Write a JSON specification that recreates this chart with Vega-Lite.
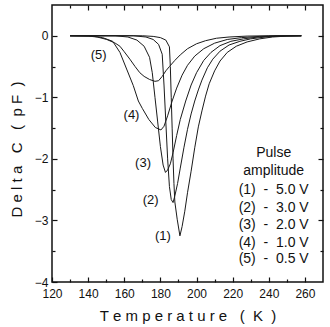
{
  "$schema": "https://vega.github.io/schema/vega-lite/v6.json",
  "width": 271,
  "height": 277,
  "autosize": "none",
  "padding": {"left": 52, "top": 5, "right": 7, "bottom": 45},
  "background": "white",
  "config": {
    "view": {"stroke": "#111", "strokeWidth": 1.5},
    "font": "Liberation Sans",
    "axis": {"grid": false, "domain": false, "tickColor": "#111", "tickWidth": 1.2, "labelColor": "#111", "labelFont": "Liberation Sans", "labelFontSize": 12, "titleFont": "Liberation Sans", "titleFontWeight": "normal", "titleColor": "#111"}
  },
  "datasets": {
    "curves": [
      {"curve": "1", "T": 130, "C": 0}, {"curve": "1", "T": 170, "C": 0}, {"curve": "1", "T": 176, "C": -0.01}, {"curve": "1", "T": 180, "C": -0.03}, {"curve": "1", "T": 183, "C": -0.07}, {"curve": "1", "T": 185, "C": -0.18}, {"curve": "1", "T": 185.5, "C": -0.5}, {"curve": "1", "T": 186, "C": -1.0}, {"curve": "1", "T": 186.5, "C": -1.5}, {"curve": "1", "T": 187, "C": -2.0}, {"curve": "1", "T": 187.5, "C": -2.4}, {"curve": "1", "T": 188, "C": -2.7}, {"curve": "1", "T": 189.3, "C": -2.98}, {"curve": "1", "T": 190.8, "C": -3.25}, {"curve": "1", "T": 192, "C": -3.1}, {"curve": "1", "T": 193.5, "C": -2.85}, {"curve": "1", "T": 195, "C": -2.55}, {"curve": "1", "T": 197, "C": -2.2}, {"curve": "1", "T": 199, "C": -1.82}, {"curve": "1", "T": 201, "C": -1.48}, {"curve": "1", "T": 203, "C": -1.22}, {"curve": "1", "T": 205, "C": -0.98}, {"curve": "1", "T": 207, "C": -0.78}, {"curve": "1", "T": 210, "C": -0.57}, {"curve": "1", "T": 213, "C": -0.41}, {"curve": "1", "T": 217, "C": -0.27}, {"curve": "1", "T": 222, "C": -0.17}, {"curve": "1", "T": 228, "C": -0.1}, {"curve": "1", "T": 235, "C": -0.05}, {"curve": "1", "T": 242, "C": -0.02}, {"curve": "1", "T": 250, "C": -0.005}, {"curve": "1", "T": 258, "C": 0},
      {"curve": "2", "T": 130, "C": 0}, {"curve": "2", "T": 165, "C": 0}, {"curve": "2", "T": 172, "C": -0.02}, {"curve": "2", "T": 176, "C": -0.06}, {"curve": "2", "T": 179, "C": -0.14}, {"curve": "2", "T": 181, "C": -0.3}, {"curve": "2", "T": 182, "C": -0.8}, {"curve": "2", "T": 183, "C": -1.4}, {"curve": "2", "T": 184, "C": -2.0}, {"curve": "2", "T": 185, "C": -2.45}, {"curve": "2", "T": 186, "C": -2.66}, {"curve": "2", "T": 187, "C": -2.71}, {"curve": "2", "T": 188, "C": -2.6}, {"curve": "2", "T": 189.5, "C": -2.4}, {"curve": "2", "T": 191, "C": -2.15}, {"curve": "2", "T": 193, "C": -1.82}, {"curve": "2", "T": 195, "C": -1.52}, {"curve": "2", "T": 197, "C": -1.27}, {"curve": "2", "T": 199, "C": -1.06}, {"curve": "2", "T": 201, "C": -0.88}, {"curve": "2", "T": 203, "C": -0.72}, {"curve": "2", "T": 206, "C": -0.52}, {"curve": "2", "T": 209, "C": -0.38}, {"curve": "2", "T": 213, "C": -0.25}, {"curve": "2", "T": 218, "C": -0.15}, {"curve": "2", "T": 224, "C": -0.09}, {"curve": "2", "T": 230, "C": -0.05}, {"curve": "2", "T": 238, "C": -0.02}, {"curve": "2", "T": 246, "C": -0.005}, {"curve": "2", "T": 258, "C": 0},
      {"curve": "3", "T": 130, "C": 0}, {"curve": "3", "T": 155, "C": 0}, {"curve": "3", "T": 162, "C": -0.02}, {"curve": "3", "T": 167, "C": -0.07}, {"curve": "3", "T": 171, "C": -0.17}, {"curve": "3", "T": 174, "C": -0.35}, {"curve": "3", "T": 175.5, "C": -0.6}, {"curve": "3", "T": 177, "C": -1.0}, {"curve": "3", "T": 178.5, "C": -1.4}, {"curve": "3", "T": 180, "C": -1.8}, {"curve": "3", "T": 181.5, "C": -2.1}, {"curve": "3", "T": 182.8, "C": -2.22}, {"curve": "3", "T": 184, "C": -2.18}, {"curve": "3", "T": 185.5, "C": -2.08}, {"curve": "3", "T": 187, "C": -1.9}, {"curve": "3", "T": 189, "C": -1.62}, {"curve": "3", "T": 191, "C": -1.36}, {"curve": "3", "T": 194, "C": -1.06}, {"curve": "3", "T": 197, "C": -0.8}, {"curve": "3", "T": 200, "C": -0.6}, {"curve": "3", "T": 204, "C": -0.4}, {"curve": "3", "T": 208, "C": -0.27}, {"curve": "3", "T": 213, "C": -0.16}, {"curve": "3", "T": 219, "C": -0.09}, {"curve": "3", "T": 226, "C": -0.05}, {"curve": "3", "T": 234, "C": -0.02}, {"curve": "3", "T": 243, "C": -0.005}, {"curve": "3", "T": 258, "C": 0},
      {"curve": "4", "T": 130, "C": 0}, {"curve": "4", "T": 142, "C": -0.005}, {"curve": "4", "T": 148, "C": -0.03}, {"curve": "4", "T": 153.6, "C": -0.09}, {"curve": "4", "T": 157.6, "C": -0.27}, {"curve": "4", "T": 161.3, "C": -0.54}, {"curve": "4", "T": 165, "C": -0.81}, {"curve": "4", "T": 167.8, "C": -1.06}, {"curve": "4", "T": 170, "C": -1.18}, {"curve": "4", "T": 173.6, "C": -1.36}, {"curve": "4", "T": 177.2, "C": -1.49}, {"curve": "4", "T": 180.3, "C": -1.53}, {"curve": "4", "T": 182, "C": -1.47}, {"curve": "4", "T": 184, "C": -1.3}, {"curve": "4", "T": 186.5, "C": -1.06}, {"curve": "4", "T": 189, "C": -0.85}, {"curve": "4", "T": 192, "C": -0.64}, {"curve": "4", "T": 195, "C": -0.48}, {"curve": "4", "T": 199, "C": -0.33}, {"curve": "4", "T": 204, "C": -0.21}, {"curve": "4", "T": 210, "C": -0.12}, {"curve": "4", "T": 217, "C": -0.06}, {"curve": "4", "T": 225, "C": -0.03}, {"curve": "4", "T": 235, "C": -0.01}, {"curve": "4", "T": 245, "C": 0}, {"curve": "4", "T": 258, "C": 0},
      {"curve": "5", "T": 130, "C": 0}, {"curve": "5", "T": 140, "C": -0.005}, {"curve": "5", "T": 145, "C": -0.02}, {"curve": "5", "T": 150.3, "C": -0.06}, {"curve": "5", "T": 155, "C": -0.12}, {"curve": "5", "T": 157.6, "C": -0.17}, {"curve": "5", "T": 160, "C": -0.26}, {"curve": "5", "T": 163.1, "C": -0.38}, {"curve": "5", "T": 166, "C": -0.5}, {"curve": "5", "T": 168.6, "C": -0.6}, {"curve": "5", "T": 171, "C": -0.66}, {"curve": "5", "T": 174, "C": -0.71}, {"curve": "5", "T": 177, "C": -0.74}, {"curve": "5", "T": 179, "C": -0.73}, {"curve": "5", "T": 181, "C": -0.66}, {"curve": "5", "T": 183, "C": -0.57}, {"curve": "5", "T": 185, "C": -0.5}, {"curve": "5", "T": 188, "C": -0.4}, {"curve": "5", "T": 191, "C": -0.31}, {"curve": "5", "T": 195, "C": -0.21}, {"curve": "5", "T": 200, "C": -0.13}, {"curve": "5", "T": 205, "C": -0.08}, {"curve": "5", "T": 211, "C": -0.04}, {"curve": "5", "T": 218, "C": -0.02}, {"curve": "5", "T": 228, "C": -0.005}, {"curve": "5", "T": 240, "C": 0}, {"curve": "5", "T": 258, "C": 0}
    ],
    "curveLabels": [
      {"T": 145.8, "C": -0.32, "text": "(5)"},
      {"T": 164, "C": -1.29, "text": "(4)"},
      {"T": 170.4, "C": -2.07, "text": "(3)"},
      {"T": 174.6, "C": -2.66, "text": "(2)"},
      {"T": 181.4, "C": -3.26, "text": "(1)"}
    ],
    "legendHead": [
      {"T": 242.7, "C": -1.91, "text": "Pulse"},
      {"T": 242.7, "C": -2.2, "text": "amplitude"}
    ],
    "legendRows": [
      {"T": 242.7, "C": -2.51, "text": "(1)\u00a0\u00a0-\u00a0\u00a05.0 V"},
      {"T": 242.7, "C": -2.79, "text": "(2)\u00a0\u00a0-\u00a0\u00a03.0 V"},
      {"T": 242.7, "C": -3.08, "text": "(3)\u00a0\u00a0-\u00a0\u00a02.0 V"},
      {"T": 242.7, "C": -3.36, "text": "(4)\u00a0\u00a0-\u00a0\u00a01.0 V"},
      {"T": 242.7, "C": -3.62, "text": "(5)\u00a0\u00a0-\u00a0\u00a00.5 V"}
    ]
  },
  "resolve": {"axis": {"x": "independent", "y": "independent"}},
  "layer": [
    {
      "data": {"name": "curves"},
      "mark": {"type": "line", "stroke": "#1a1a1a", "strokeWidth": 1, "clip": true},
      "encoding": {
        "x": {"field": "T", "type": "quantitative", "scale": {"domain": [120, 270], "nice": false, "zero": false},
              "axis": {"orient": "bottom", "values": [120, 140, 160, 180, 200, 220, 240, 260], "tickSize": -5, "labelPadding": 11, "labelFlush": false,
                       "title": "T\u00a0e\u00a0m\u00a0p\u00a0e\u00a0r\u00a0a\u00a0t\u00a0u\u00a0r\u00a0e\u00a0\u00a0\u00a0(\u00a0\u00a0K\u00a0\u00a0)", "titleFontSize": 15, "titlePadding": 9}},
        "y": {"field": "C", "type": "quantitative", "scale": {"domain": [-4, 0.5], "nice": false, "zero": false},
              "axis": {"orient": "left", "values": [-4, -3, -2, -1, 0], "tickSize": -5, "labelPadding": 9, "labelFlush": false,
                       "title": "D\u00a0e\u00a0l\u00a0t\u00a0a\u00a0\u00a0\u00a0C\u00a0\u00a0\u00a0(\u00a0\u00a0p\u00a0F\u00a0\u00a0)", "titleFontSize": 15, "titlePadding": 10, "titleY": 144}},
        "detail": {"field": "curve"}
      }
    },
    {
      "data": {"name": "curveLabels"},
      "mark": {"type": "text", "font": "Liberation Sans", "fontSize": 13, "color": "#111"},
      "encoding": {
        "x": {"field": "T", "type": "quantitative", "axis": {"orient": "top", "values": [140, 160, 180, 200, 220, 240, 260], "tickSize": -5, "labels": false, "title": null}},
        "y": {"field": "C", "type": "quantitative", "axis": {"orient": "right", "values": [-3, -2, -1, 0], "tickSize": -5, "labels": false, "title": null}},
        "text": {"field": "text"}
      }
    },
    {
      "data": {"name": "legendHead"},
      "mark": {"type": "text", "font": "Liberation Sans", "fontSize": 14, "color": "#111"},
      "encoding": {
        "x": {"field": "T", "type": "quantitative", "axis": {"orient": "bottom", "values": [130, 150, 170, 190, 210, 230, 250], "tickSize": -3, "labels": false, "title": null}},
        "y": {"field": "C", "type": "quantitative", "axis": {"orient": "left", "values": [-3.5, -2.5, -1.5, -0.5], "tickSize": -3, "labels": false, "title": null}},
        "text": {"field": "text"}
      }
    },
    {
      "data": {"name": "legendRows"},
      "mark": {"type": "text", "font": "Liberation Sans", "fontSize": 14, "color": "#111"},
      "encoding": {
        "x": {"field": "T", "type": "quantitative", "axis": {"orient": "top", "values": [130, 150, 170, 190, 210, 230, 250], "tickSize": -3, "labels": false, "title": null}},
        "y": {"field": "C", "type": "quantitative", "axis": {"orient": "right", "values": [-3.5, -2.5, -1.5, -0.5], "tickSize": -3, "labels": false, "title": null}},
        "text": {"field": "text"}
      }
    }
  ]
}
